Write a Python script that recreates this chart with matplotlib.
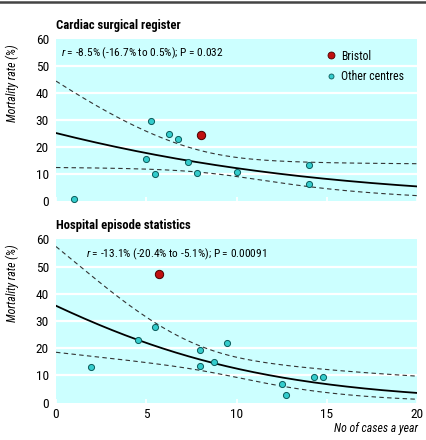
import numpy as np
import matplotlib
matplotlib.use("Agg")
import matplotlib.pyplot as plt
from matplotlib.lines import Line2D
from matplotlib import font_manager

names = {f.name for f in font_manager.fontManager.ttflist}
FONT = next((n for n in ['Roboto Condensed', 'Archivo Narrow', 'PT Sans Narrow', 'Liberation Sans']
             if n in names), 'DejaVu Sans')
plt.rcParams['font.family'] = [FONT, 'DejaVu Sans']
plt.rcParams['mathtext.fontset'] = 'custom'
plt.rcParams['mathtext.it'] = FONT + ':italic'
plt.rcParams['mathtext.rm'] = FONT

# ---- Data: Cardiac surgical register ----
csr_x = [1.0, 5.0, 5.25, 5.5, 6.25, 6.75, 7.3, 7.8, 10.0, 14.0, 14.0]
csr_y = [0.7, 15.7, 29.6, 9.9, 24.7, 23.0, 14.6, 10.4, 10.9, 13.5, 6.2]
csr_bristol_x = [8.0]
csr_bristol_y = [24.5]
# logistic fit: logit(p) = a + b*x ; CI half-width^2 = A + B*x + C*x^2
csr_fit = dict(a=-1.087, b=-0.0888, A=0.75, B=-0.1444, C=0.00802)
csr_text = r"$\it{r}$ = -8.5% (-16.7% to 0.5%); P = 0.032"

# ---- Data: Hospital episode statistics ----
hes_x = [1.95, 4.55, 5.5, 7.97, 7.97, 8.73, 9.48, 12.53, 12.75, 14.26, 14.76]
hes_y = [13.1, 22.9, 27.8, 19.5, 13.4, 14.9, 21.8, 6.7, 2.8, 9.6, 9.4]
hes_bristol_x = [5.72]
hes_bristol_y = [47.3]
hes_fit = dict(a=-0.593, b=-0.135, A=0.79, B=-0.153, C=0.00852)
hes_text = r"$\it{r}$ = -13.1% (-20.4% to -5.1%); P = 0.00091"

titles = ["Cardiac surgical register", "Hospital episode statistics"]
yticks = [0, 10, 20, 30, 40, 50, 60]
xticks = [0, 5, 10, 15, 20]

BG = '#CCFFFF'
CYAN = '#33CCCC'
CYAN_EDGE = '#0A5A5A'
RED = '#C01010'
RED_EDGE = '#4A0000'
FS_TICK = 9.6
FS_NOTE = 8.2
FS_TITLE = 9.1
FS_LABEL = 8.5

W, H = 426, 440
fig = plt.figure(figsize=(W / 100, H / 100), dpi=100)


def inv_logit(z):
    return 100.0 / (1.0 + np.exp(-z))


def draw_panel(ax, xs, ys, bx, by, fit, text, text_x, text_y, show_xlabels):
    ax.set_facecolor(BG)
    for s in ax.spines.values():
        s.set_visible(False)
    ax.set_xlim(0, 20)
    ax.set_ylim(0, 60)
    ax.set_yticks(yticks)
    ax.set_xticks(xticks)
    for yv in yticks[1:-1]:
        ax.axhline(yv, color='white', lw=1.6, zorder=1)
    ax.tick_params(axis='y', length=0, labelsize=FS_TICK, pad=5)
    ax.tick_params(axis='x', direction='in', length=3, color='white', width=1.2,
                   labelsize=FS_TICK, pad=4)
    if not show_xlabels:
        ax.set_xticklabels([])
    xx = np.linspace(0, 20, 200)
    z = fit['a'] + fit['b'] * xx
    h = np.sqrt(fit['A'] + fit['B'] * xx + fit['C'] * xx ** 2)
    ax.plot(xx, inv_logit(z), color='black', lw=1.3, zorder=3)
    ax.plot(xx, inv_logit(z + h), color='#333333', lw=0.8, ls=(0, (4, 3)), zorder=3)
    ax.plot(xx, inv_logit(z - h), color='#333333', lw=0.8, ls=(0, (4, 3)), zorder=3)
    ax.plot(xs, ys, 'o', ms=4.4, mfc=CYAN, mec=CYAN_EDGE, mew=0.7, zorder=4, clip_on=False)
    ax.plot(bx, by, 'o', ms=6.0, mfc=RED, mec=RED_EDGE, mew=0.7, zorder=4, clip_on=False)
    ax.text(text_x, text_y, text, fontsize=FS_NOTE, va='center', ha='left', zorder=5)


ax1 = fig.add_axes([56 / W, 1 - 201 / H, 361.3 / W, 161.7 / H])
draw_panel(ax1, csr_x, csr_y, csr_bristol_x, csr_bristol_y, csr_fit, csr_text, 0.3, 54.7, False)
ax2 = fig.add_axes([56 / W, 1 - 402.7 / H, 361.3 / W, 163.4 / H])
draw_panel(ax2, hes_x, hes_y, hes_bristol_x, hes_bristol_y, hes_fit, hes_text, 1.65, 54.5, True)

# legend (top panel)
handles = [Line2D([], [], ls='', marker='o', ms=5.0, mfc=RED, mec=RED_EDGE, mew=0.6),
           Line2D([], [], ls='', marker='o', ms=3.6, mfc=CYAN, mec=CYAN_EDGE, mew=0.6)]
ax1.legend(handles, ['Bristol', 'Other centres'], loc='upper left',
           bbox_to_anchor=((327 - 56) / 361.3, 1 - (49.5 - 39.3) / 161.7),
           frameon=False, fontsize=FS_NOTE + 0.3, handlelength=0.6, handletextpad=0.6,
           labelspacing=0.62, borderaxespad=0, borderpad=0)

# titles
fig.text(56 / W, 1 - 25 / H, titles[0], fontsize=FS_TITLE, fontweight='bold', va='center', ha='left')
fig.text(56 / W, 1 - 225.7 / H, titles[1], fontsize=FS_TITLE, fontweight='bold', va='center', ha='left')

# y labels
fig.text(12 / W, 1 - 83 / H, 'Mortality rate (%)', rotation=90, fontsize=FS_LABEL,
         style='italic', va='center', ha='center')
fig.text(12 / W, 1 - 283 / H, 'Mortality rate (%)', rotation=90, fontsize=FS_LABEL,
         style='italic', va='center', ha='center')

# x label
fig.text(418 / W, 1 - 428 / H, 'No of cases a year', fontsize=FS_LABEL, style='italic',
         va='center', ha='right')

# top rule
fig.add_artist(Line2D([0, 1], [1 - 2 / H, 1 - 2 / H], color='#444444', lw=1.8,
                      transform=fig.transFigure))

fig.savefig('out.png', dpi=100)
